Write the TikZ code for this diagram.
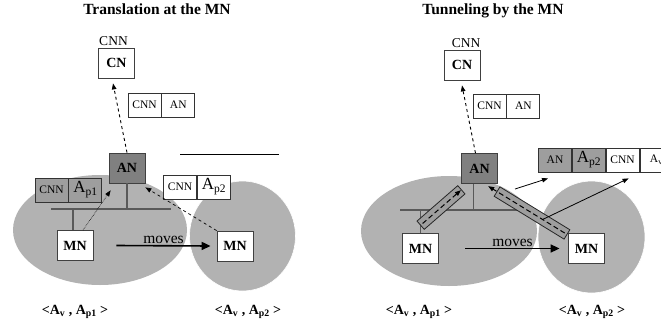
\documentclass[tikz,border=0pt]{standalone}
\usepackage{fontspec}
\setmainfont{Liberation Serif}
\usetikzlibrary{arrows.meta}
\usetikzlibrary{positioning, calc}

\begin{document}
\begin{tikzpicture}[
    x=1pt, y=-1pt,
    title/.style={font=\bfseries\fontsize{15.5}{16}\selectfont, anchor=base, inner sep=0pt},
    plain/.style={font=\fontsize{13.5}{14}\selectfont, inner sep=0pt},
    nodebox/.style={draw=black!75, line width=0.8pt, fill=white, minimum width=36pt, minimum height=30pt, inner sep=0pt, font=\bfseries\fontsize{14}{14}\selectfont},
    agent/.style={nodebox, fill=black!50},
    cell/.style={draw=black!80, line width=0.8pt, fill=white, minimum width=33pt, minimum height=24pt, inner sep=0pt, font=\fontsize{11.5}{12}\selectfont},
    gcell/.style={cell, fill=black!38},
    area/.style={fill=black!30},
    bus/.style={draw=black!65, line width=1.1pt},
    tunnel/.style={draw=black!85, line width=0.8pt, fill=black!38, minimum width=54pt, minimum height=11pt, inner sep=0pt},
    tunarrow/.style={->, dash pattern=on 5pt off 3pt, line width=1pt},
    move/.style={-{Triangle[length=9pt, width=8pt]}, line width=1.6pt},
    addr/.style={font=\bfseries\fontsize{14}{14}\selectfont},
    >={Triangle[length=6pt, width=4.5pt]}
]
\useasboundingbox (0,0) rectangle (661,327);

% --- Titles ---
\node[title] (Ltitle) at (157,14) {Translation at the MN};
\node[title] (Rtitle) at (493,14) {Tunneling by the MN};

% --- Coverage areas ---
\fill[area] (100,230) ellipse [x radius=87, y radius=55];
\filldraw[area, draw=white, line width=0.6pt] (242.5,236) ellipse [x radius=53, y radius=55];
\fill[area] (449,231) ellipse [x radius=88, y radius=55];
\filldraw[area, draw=white, line width=0.6pt] (591.5,237) ellipse [x radius=53.5, y radius=56];

% --- Left: correspondent node ---
\node[nodebox] (Lcn) at (116.5,63) {CN};
\node[plain] (Lcnn) at (113.5,41) {CNN};
\node[cell] (Lh1) at (144.5,105) {CNN};
\node[cell, right=0pt of Lh1] (Lh2) {AN};
\draw[line width=0.9pt] (180,154) -- (279,154);

% --- Left: access network ---
\coordinate (LbusL) at (51,209);
\coordinate (LbusR) at (171,209);
\draw[bus] (LbusL) -- (LbusR);
\node[agent] (Lan) at (127,168) {AN};
\draw[bus] (Lan.south) -- (Lan.south |- LbusL);
\node[nodebox] (Lmn1) at (75,245.5) {MN};
\node[nodebox] (Lmn2) at (235,246) {MN};
\draw[bus] ([xshift=-2pt]Lmn1.north) -- ([xshift=-2pt]Lmn1.north |- LbusL);

% --- Left: packet headers ---
\node[gcell] (Lp1) at (51.5,190) {CNN};
\node[gcell, right=0pt of Lp1] (Lp2) {{\fontsize{17}{17}\selectfont A}\raisebox{-3pt}{p1}};
\node[cell] (Lq1) at (180,187) {CNN};
\node[cell, right=0pt of Lq1] (Lq2) {{\fontsize{17}{17}\selectfont A}\raisebox{-3pt}{p2}};

% --- Left: signalling ---
\draw[->, dashed, line width=0.9pt] (Lan.north) -- ([xshift=-3.5pt, yshift=-5pt]Lcn.south);
\draw[->, densely dotted, line width=0.6pt] ([xshift=8pt]Lmn1.north) -- ([xshift=2pt, yshift=-7pt]Lan.south west);
\draw[->, dashed, line width=0.7pt] (Lmn2.north west) -- ([yshift=-4pt]Lan.south east);
\draw[move] ([xshift=23pt]Lmn1.east) -- ([xshift=-6pt]Lmn2.west)
    node[midway, above=1pt, inner sep=0pt, font=\fontsize{15.5}{16}\selectfont] (Lmoves) {moves};

% --- Left: addresses ---
\node[addr] (Laddr1) at (75,312) {<A\textsubscript{v} , A\textsubscript{p1} >};
\node[addr] (Laddr2) at (248,312) {<A\textsubscript{v} , A\textsubscript{p2} >};

% --- Right: correspondent node ---
\node[nodebox] (Rcn) at (462,65) {CN};
\node[plain] (Rcnn) at (466,43) {CNN};
\node[cell] (Rh1) at (489.5,106) {CNN};
\node[cell, right=0pt of Rh1] (Rh2) {AN};

% --- Right: access network ---
\coordinate (RbusL) at (400,210);
\coordinate (RbusR) at (520,210);
\draw[bus] (RbusL) -- (RbusR);
\node[agent] (Ran) at (479.5,168.5) {AN};
\draw[bus] ([xshift=-6pt]Ran.south) -- ([xshift=-6pt]Ran.south |- RbusL);
\node[nodebox] (Rmn1) at (420.5,248.5) {MN};
\node[nodebox] (Rmn2) at (586.5,248.5) {MN};
\draw[bus] (Rmn1.north) -- (Rmn1.north |- RbusL);

% --- Right: tunnels ---
\node[tunnel, rotate=41] (Rt1) at (441,207.5) {};
\draw[tunarrow, shorten <=3pt, shorten >=1pt] (Rt1.west) -- (Rt1.east);
\node[tunnel, minimum width=82pt, rotate=-31.5] (Rt2) at (532,213) {};
\draw[tunarrow, shorten <=3pt] (Rt2.east) -- ($(Rt2.west)!-10pt!(Rt2.east)$);

% --- Right: encapsulated packet ---
\node[gcell] (Rs1) at (555,160) {AN};
\node[gcell, right=0pt of Rs1] (Rs2) {{\fontsize{17}{17}\selectfont A}\raisebox{-3pt}{p2}};
\node[cell, right=0pt of Rs2] (Rs3) {CNN};
\node[cell, right=0pt of Rs3] (Rs4) {A\textsubscript{v}};
\coordinate (Rsrc1) at (515,189);
\draw[->, line width=0.8pt] (Rsrc1) -- ([xshift=-7pt, yshift=-6pt]Rs1.south);
\draw[->, line width=0.8pt] ($(Rt2.west)!0.65!(Rt2.east)$) -- ([xshift=6pt, yshift=-6pt]Rs3.south);

% --- Right: signalling ---
\draw[->, dashed, line width=0.9pt] ([xshift=-4pt]Ran.north) -- ([yshift=-5pt]Rcn.south);
\draw[move] ([xshift=26.5pt]Rmn1.east) -- ([xshift=-8.5pt]Rmn2.west)
    node[midway, above=1pt, inner sep=0pt, font=\fontsize{15.5}{16}\selectfont] (Rmoves) {moves};

% --- Right: addresses ---
\node[addr] (Raddr1) at (419,312) {<A\textsubscript{v} , A\textsubscript{p1} >};
\node[addr] (Raddr2) at (592,312) {<A\textsubscript{v} , A\textsubscript{p2} >};

\end{tikzpicture}
\end{document}
